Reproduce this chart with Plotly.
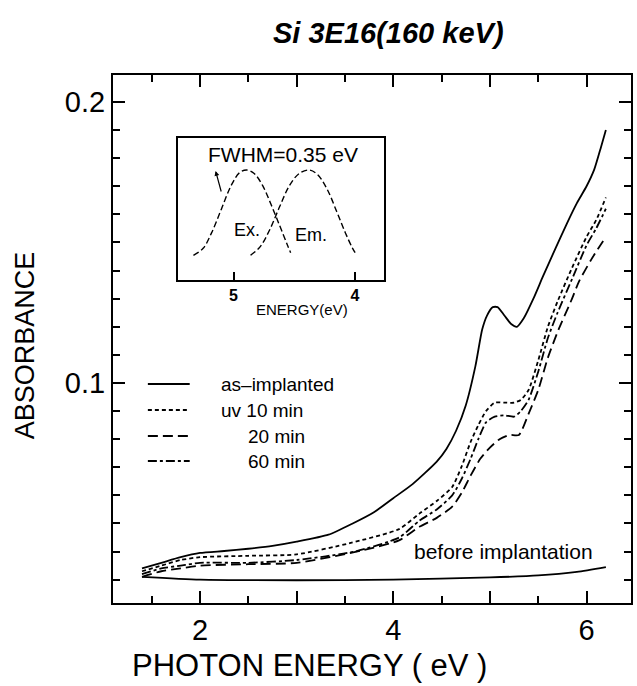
import plotly.graph_objects as go

# ---------------- data ----------------
as_impl_x = [1.40, 1.60, 1.80, 2.00, 2.25, 2.50, 2.75, 3.00, 3.33, 3.58, 3.80, 4.00, 4.20, 4.45,
             4.55, 4.65, 4.75, 4.85, 4.92, 4.97, 5.03, 5.08, 5.15, 5.22, 5.28, 5.35, 5.45, 5.55,
             5.68, 5.80, 5.90, 6.00, 6.08, 6.15, 6.20]
as_impl_y = [0.034, 0.036, 0.038, 0.0395, 0.0402, 0.041, 0.042, 0.0435, 0.046, 0.050, 0.054, 0.059,
             0.064, 0.072, 0.0765, 0.083, 0.092, 0.106, 0.119, 0.124, 0.127, 0.127, 0.124, 0.121,
             0.120, 0.123, 0.130, 0.138, 0.148, 0.157, 0.164, 0.170, 0.176, 0.184, 0.190]

uv10_x = [1.40, 1.60, 1.80, 2.00, 2.50, 3.00, 3.55, 4.06, 4.27, 4.45, 4.61, 4.71, 4.80, 4.88, 4.96,
          5.05, 5.15, 5.25, 5.32, 5.40, 5.50, 5.60, 5.70, 5.85, 6.00, 6.10, 6.20]
uv10_y = [0.033, 0.035, 0.037, 0.038, 0.0385, 0.039, 0.043, 0.048, 0.0535, 0.058, 0.063, 0.0705,
          0.079, 0.085, 0.090, 0.093, 0.093, 0.093, 0.094, 0.0975, 0.108, 0.120, 0.129, 0.141,
          0.152, 0.158, 0.166]

min60_x = [1.40, 1.60, 1.80, 2.00, 2.50, 3.00, 3.60, 4.06, 4.27, 4.45, 4.61, 4.71, 4.80, 4.88, 4.96,
           5.05, 5.15, 5.25, 5.32, 5.40, 5.50, 5.60, 5.70, 5.85, 6.00, 6.10, 6.20]
min60_y = [0.032, 0.034, 0.035, 0.036, 0.036, 0.037, 0.040, 0.045, 0.051, 0.055, 0.060, 0.066,
           0.073, 0.080, 0.086, 0.088, 0.0885, 0.088, 0.090, 0.094, 0.104, 0.116, 0.125, 0.137,
           0.149, 0.155, 0.162]

min20_x = [1.40, 1.60, 1.80, 2.00, 2.50, 3.00, 3.69, 4.06, 4.27, 4.45, 4.61, 4.71, 4.80, 4.90, 5.00,
           5.10, 5.20, 5.30, 5.40, 5.50, 5.60, 5.71, 5.85, 5.92, 6.05, 6.20]
min20_y = [0.031, 0.033, 0.034, 0.035, 0.0355, 0.036, 0.0405, 0.044, 0.0488, 0.052, 0.056, 0.061,
           0.067, 0.073, 0.077, 0.080, 0.0815, 0.0815, 0.089, 0.0975, 0.109, 0.119, 0.130, 0.136,
           0.144, 0.152]

before_x = [1.40, 2.00, 3.00, 4.00, 5.00, 5.50, 5.90, 6.20]
before_y = [0.031, 0.030, 0.0298, 0.030, 0.0308, 0.0315, 0.0328, 0.0345]

# inset: excitation / emission bands (relative height)
ex_x = [5.33, 5.25, 5.18, 5.10, 5.02, 4.95, 4.89, 4.83, 4.76, 4.69, 4.62, 4.56, 4.53]
ex_y = [0.02, 0.10, 0.28, 0.55, 0.82, 0.97, 1.00, 0.96, 0.82, 0.60, 0.36, 0.15, 0.05]
em_x = [4.86, 4.78, 4.70, 4.62, 4.54, 4.46, 4.38, 4.31, 4.23, 4.15, 4.08, 4.02, 3.99]
em_y = [0.02, 0.12, 0.32, 0.58, 0.82, 0.96, 1.00, 0.95, 0.78, 0.52, 0.28, 0.10, 0.03]

x_tickvals = [2, 3, 4, 5, 6]
x_ticktext = ["2", "", "4", "", "6"]
y_tickvals = [0.1, 0.2]
y_ticktext = ["0.1", "0.2"]
inset_tickvals = [5, 4]
inset_ticktext = ["<b>5</b>", "<b>4</b>"]

legend_labels = ["as\u2013implanted", "uv 10 min", "20 min", "60 min"]
legend_dashes = ["solid", "4px,3px", "10px,5px", "9px,3px,3px,3px"]

# ---------------- figure ----------------
W, H = 637, 686
ML, MR, MT, MB = 113, 4, 75, 83
PW, PH = W - ML - MR, H - MT - MB
FONT = "Arial, Liberation Sans, Helvetica, sans-serif"
XR = [1.1, 6.46]
YR = [0.0217, 0.2096]
IXR = [5.459, 3.762]
IYR = [-0.264, 1.368]


def px2paper(px, py):
    return (px - ML) / PW, (H - MB - py) / PH


fig = go.Figure()
line_w = 1.8
series = [(as_impl_x, as_impl_y, legend_labels[0], legend_dashes[0]),
          (uv10_x, uv10_y, legend_labels[1], legend_dashes[1]),
          (min20_x, min20_y, legend_labels[2], legend_dashes[2]),
          (min60_x, min60_y, legend_labels[3], legend_dashes[3]),
          (before_x, before_y, "before implantation", "solid")]
for sx, sy, nm, ds in series:
    fig.add_trace(go.Scatter(x=sx, y=sy, mode="lines", name=nm,
                             line=dict(color="black", width=line_w, dash=ds, shape="spline", smoothing=0.6)))

# inset traces
fig.add_trace(go.Scatter(x=ex_x, y=ex_y, mode="lines", xaxis="x2", yaxis="y2", name="Ex.",
                         line=dict(color="black", width=1.4, dash="6px,3px", shape="spline")))
fig.add_trace(go.Scatter(x=em_x, y=em_y, mode="lines", xaxis="x2", yaxis="y2", name="Em.",
                         line=dict(color="black", width=1.4, dash="6px,3px", shape="spline")))

# inset domain
ix0, iy0 = px2paper(178, 280)
ix1, iy1 = px2paper(385, 138)

fig.update_layout(
    width=W, height=H,
    margin=dict(l=ML, r=MR, t=MT, b=MB),
    paper_bgcolor="white", plot_bgcolor="white",
    showlegend=False,
    font=dict(family=FONT, color="black"),
    xaxis=dict(range=XR, tickmode="array", tickvals=x_tickvals, ticktext=x_ticktext,
               ticks="inside", ticklen=12, tickwidth=2, tickcolor="black",
               minor=dict(dtick=0.5, tick0=0, ticks="inside", ticklen=7, tickwidth=2, tickcolor="black"),
               showline=True, linewidth=2, linecolor="black", mirror="allticks",
               showgrid=False, zeroline=False, tickfont=dict(size=29)),
    yaxis=dict(range=YR, tickmode="array", tickvals=y_tickvals, ticktext=y_ticktext,
               ticks="inside", ticklen=12, tickwidth=2, tickcolor="black",
               minor=dict(dtick=0.01, tick0=0, ticks="inside", ticklen=7, tickwidth=2, tickcolor="black"),
               showline=True, linewidth=2, linecolor="black", mirror="allticks",
               showgrid=False, zeroline=False, tickfont=dict(size=29)),
    xaxis2=dict(domain=[ix0, ix1], anchor="y2", range=IXR, tickmode="array",
                tickvals=inset_tickvals, ticktext=inset_ticktext,
                ticks="inside", ticklen=8, tickwidth=2, tickcolor="black",
                showline=True, linewidth=1.6, linecolor="black", mirror=True,
                showgrid=False, zeroline=False, tickfont=dict(size=16)),
    yaxis2=dict(domain=[iy0, iy1], anchor="x2", range=IYR,
                showticklabels=False, ticks="",
                showline=True, linewidth=1.6, linecolor="black", mirror=True,
                showgrid=False, zeroline=False),
)

annotations = []


def add_text(text, px, py, size, xanchor="center", **kw):
    xp, yp = px2paper(px, py)
    annotations.append(dict(text=text, x=xp, y=yp, xref="paper", yref="paper",
                            xanchor=xanchor, yanchor="middle", showarrow=False,
                            font=dict(size=size, family=FONT, color="black"), **kw))


# title and axis titles
add_text("<b><i>Si 3E16(160 keV)</i></b>", 390, 33, 29)
add_text("PHOTON ENERGY ( eV )", 310, 665, 31)
add_text("ABSORBANCE", 25, 345, 27, textangle=-90)

# legend labels
legend_y = [384, 410, 436, 461]
legend_text_x = [219, 219, 247, 247]
for lab, ly, lx in zip(legend_labels, legend_y, legend_text_x):
    add_text(lab, lx, ly, 19, xanchor="left")

add_text("before implantation", 505, 551, 21)

# inset labels
add_text("FWHM=0.35 eV", 284, 154, 21)
add_text("Ex.", 248, 230, 18)
add_text("Em.", 312, 235, 18)
add_text("ENERGY(eV)", 303, 309, 15)

# little arrow in inset
ax_p, ay_p = px2paper(216, 171)
annotations.append(dict(x=ax_p, y=ay_p, xref="paper", yref="paper", showarrow=True,
                        ax=6, ay=22, arrowhead=2, arrowsize=0.8, arrowwidth=1.2, arrowcolor="black", text=""))

fig.update_layout(annotations=annotations)

shapes = []
# legend line samples
for dash, ly in zip(legend_dashes, legend_y):
    x0, y0 = px2paper(148, ly)
    x1, _ = px2paper(190, ly)
    shapes.append(dict(type="line", xref="paper", yref="paper", x0=x0, x1=x1, y0=y0, y1=y0,
                       line=dict(color="black", width=1.8, dash=dash)))
fig.update_layout(shapes=shapes)

fig.write_html("out.html")
